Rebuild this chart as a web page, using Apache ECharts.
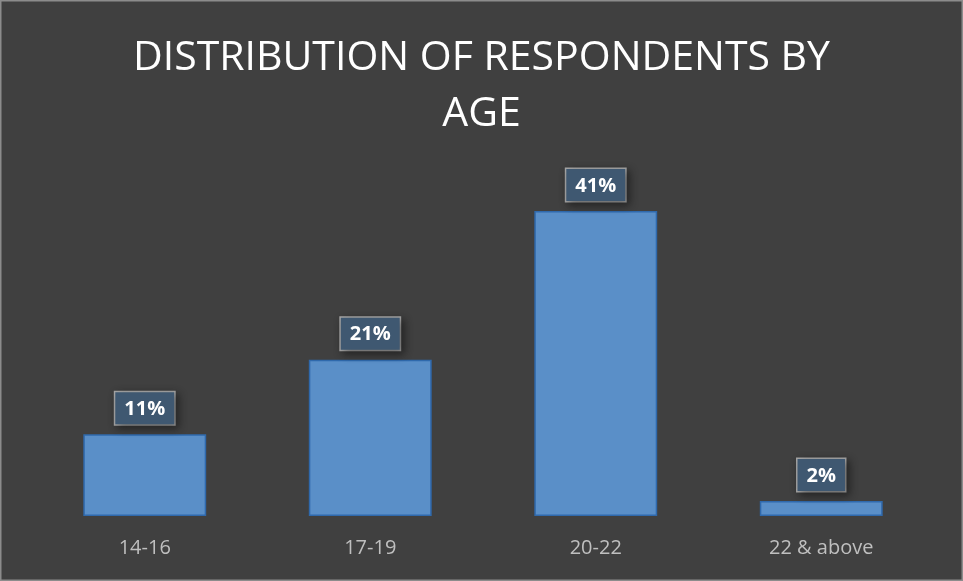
<!DOCTYPE html>
<html><head><meta charset="utf-8">
<script src="https://cdn.jsdelivr.net/npm/echarts@6/dist/echarts.min.js"></script>
<style>html,body{margin:0;padding:0;background:#404040;}#c{width:963px;height:581px;}</style>
</head><body><div id="c"></div>
<script>
const categories = ['14-16', '17-19', '20-22', '22 & above'];
const values = [11, 21, 41, 2];
const titleText = 'DISTRIBUTION OF RESPONDENTS BY\nAGE';

const chart = echarts.init(document.getElementById('c'));
chart.setOption({
  backgroundColor: '#404040',
  animation: false,
  title: {
    text: titleText, left: 'center', top: 25,
    textStyle: { color: '#ffffff', fontFamily: 'Open Sans', fontWeight: 'normal', fontSize: 41, lineHeight: 56 }
  },
  graphic: [{ type: 'rect', shape: { x: 0.5, y: 0.5, width: 962, height: 580 }, style: { fill: 'none', stroke: '#8c8c8c', lineWidth: 2 }, silent: true }],
  grid: { left: 32, right: 29, top: 144, bottom: 65 },
  xAxis: {
    type: 'category', data: categories,
    axisLine: { show: false }, axisTick: { show: false },
    axisLabel: { color: '#bfbfbf', fontSize: 20, fontFamily: 'Open Sans', margin: 22 }
  },
  yAxis: { type: 'value', min: 0, max: 50, show: false, splitLine: { show: false } },
  series: [{
    type: 'bar', data: values, barWidth: '54.5%',
    itemStyle: { color: '#5a8fc8', borderColor: '#2f69ac', borderWidth: 1.5 },
    label: {
      show: true, position: 'top', distance: 10, formatter: '{c}%',
      color: '#ffffff', fontWeight: 'bold', fontSize: 20, fontFamily: 'Open Sans',
      backgroundColor: '#3f5871', borderColor: '#a6a6a6', borderWidth: 1.5,
      padding: [7, 9, 5, 9],
      shadowColor: 'rgba(0,0,0,0.4)', shadowBlur: 8, shadowOffsetX: 3, shadowOffsetY: 3
    }
  }]
});
</script></body></html>
